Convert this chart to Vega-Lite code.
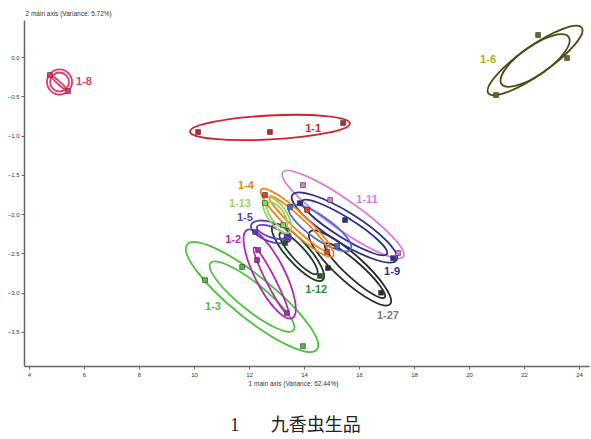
{
  "$schema": "https://vega.github.io/schema/vega-lite/v6.json",
  "width": 565,
  "height": 346,
  "autosize": "none",
  "padding": {"left": 24, "top": 20, "right": 2, "bottom": 73},
  "background": "white",
  "title": {
    "text": "1\u00a0\u00a0\u00a0\u00a0\u00a0\u00a0\u00a0九香虫生品",
    "orient": "bottom",
    "anchor": "middle",
    "dx": -11,
    "offset": 30,
    "font": "Liberation Serif, Noto Sans CJK SC",
    "fontSize": 18,
    "fontWeight": "normal",
    "color": "#222222"
  },
  "datasets": {
    "ellipses": [
      {"group": "1-8", "ring": "outer", "pc1": 5.11, "pc2": -0.318, "len": 0.91, "ratio": "1", "tilt": 0},
      {"group": "1-8", "ring": "inner", "pc1": 5.11, "pc2": -0.318, "len": 0.69, "ratio": "1", "tilt": 0},
      {"group": "1-8", "ring": "axis", "pc1": 5.09, "pc2": -0.33, "len": 0.87, "ratio": "0.12", "tilt": 42},
      {"group": "1-1", "ring": "outer", "pc1": 12.76, "pc2": -0.897, "len": 5.82, "ratio": "0.15", "tilt": -3},
      {"group": "1-6", "ring": "outer", "pc1": 22.4, "pc2": -0.045, "len": 4.15, "ratio": "0.25", "tilt": -35},
      {"group": "1-6", "ring": "inner", "pc1": 22.4, "pc2": -0.045, "len": 2.98, "ratio": "0.35", "tilt": -35},
      {"group": "1-3", "ring": "outer", "pc1": 12.11, "pc2": -3.055, "len": 6.07, "ratio": "0.25", "tilt": 39},
      {"group": "1-3", "ring": "inner", "pc1": 12.11, "pc2": -3.05, "len": 3.89, "ratio": "0.25", "tilt": 39},
      {"group": "1-2", "ring": "outer", "pc1": 12.75, "pc2": -2.762, "len": 3.6, "ratio": "0.3", "tilt": 63},
      {"group": "1-2", "ring": "inner", "pc1": 12.8, "pc2": -2.85, "len": 2.73, "ratio": "0.12", "tilt": 63},
      {"group": "1-27", "ring": "outer", "pc1": 15.67, "pc2": -2.686, "len": 3.93, "ratio": "0.25", "tilt": 42},
      {"group": "1-27", "ring": "inner", "pc1": 15.85, "pc2": -2.72, "len": 2.91, "ratio": "0.2", "tilt": 42},
      {"group": "1-12", "ring": "outer", "pc1": 13.78, "pc2": -2.488, "len": 2.69, "ratio": "0.3", "tilt": 48},
      {"group": "1-12", "ring": "inner", "pc1": 13.8, "pc2": -2.5, "len": 2.0, "ratio": "0.25", "tilt": 48},
      {"group": "1-11", "ring": "outer", "pc1": 15.42, "pc2": -2.005, "len": 5.35, "ratio": "0.2", "tilt": 35},
      {"group": "1-9", "ring": "outer", "pc1": 15.47, "pc2": -2.17, "len": 4.47, "ratio": "0.25", "tilt": 32},
      {"group": "1-9", "ring": "inner", "pc1": 15.47, "pc2": -2.17, "len": 3.64, "ratio": "0.2", "tilt": 32},
      {"group": "1-10", "ring": "outer", "pc1": 14.58, "pc2": -2.176, "len": 2.73, "ratio": "0.3", "tilt": 35},
      {"group": "1-4", "ring": "outer", "pc1": 13.75, "pc2": -2.11, "len": 3.56, "ratio": "0.2", "tilt": 43},
      {"group": "1-4", "ring": "inner", "pc1": 13.8, "pc2": -2.12, "len": 2.9, "ratio": "0.15", "tilt": 43},
      {"group": "1-5", "ring": "outer", "pc1": 12.8, "pc2": -2.227, "len": 1.53, "ratio": "0.45", "tilt": 20},
      {"group": "1-5", "ring": "inner", "pc1": 12.8, "pc2": -2.227, "len": 1.09, "ratio": "0.35", "tilt": 20},
      {"group": "1-13", "ring": "outer", "pc1": 13.02, "pc2": -2.01, "len": 1.53, "ratio": "0.45", "tilt": 55},
      {"group": "1-13", "ring": "inner", "pc1": 13.02, "pc2": -2.01, "len": 1.09, "ratio": "0.45", "tilt": 55}
    ],
    "scores": [
      {"group": "1-8", "pc1": 4.76, "pc2": -0.229},
      {"group": "1-8", "pc1": 5.42, "pc2": -0.433},
      {"group": "1-1", "pc1": 10.15, "pc2": -0.955},
      {"group": "1-1", "pc1": 12.76, "pc2": -0.955},
      {"group": "1-1", "pc1": 15.42, "pc2": -0.84},
      {"group": "1-6", "pc1": 22.51, "pc2": 0.28},
      {"group": "1-6", "pc1": 23.56, "pc2": -0.013},
      {"group": "1-6", "pc1": 20.98, "pc2": -0.484},
      {"group": "1-3", "pc1": 11.75, "pc2": -2.673},
      {"group": "1-3", "pc1": 10.4, "pc2": -2.84},
      {"group": "1-3", "pc1": 13.96, "pc2": -3.68},
      {"group": "1-2", "pc1": 12.33, "pc2": -2.456},
      {"group": "1-2", "pc1": 12.29, "pc2": -2.584},
      {"group": "1-2", "pc1": 13.38, "pc2": -3.26},
      {"group": "1-27", "pc1": 14.87, "pc2": -2.686},
      {"group": "1-27", "pc1": 16.8, "pc2": -3.0},
      {"group": "1-12", "pc1": 13.31, "pc2": -2.367},
      {"group": "1-12", "pc1": 14.58, "pc2": -2.787},
      {"group": "1-11", "pc1": 13.96, "pc2": -1.63},
      {"group": "1-11", "pc1": 14.95, "pc2": -1.82},
      {"group": "1-11", "pc1": 17.42, "pc2": -2.495},
      {"group": "1-9", "pc1": 13.85, "pc2": -1.86},
      {"group": "1-9", "pc1": 15.49, "pc2": -2.075},
      {"group": "1-9", "pc1": 17.24, "pc2": -2.56},
      {"group": "1-10", "pc1": 13.49, "pc2": -1.91},
      {"group": "1-10", "pc1": 15.2, "pc2": -2.405},
      {"group": "1-4", "pc1": 12.58, "pc2": -1.756},
      {"group": "1-4", "pc1": 14.11, "pc2": -1.947},
      {"group": "1-4", "pc1": 14.84, "pc2": -2.48},
      {"group": "1-5", "pc1": 12.22, "pc2": -2.227},
      {"group": "1-5", "pc1": 13.38, "pc2": -2.3},
      {"group": "1-13", "pc1": 12.58, "pc2": -1.86},
      {"group": "1-13", "pc1": 13.24, "pc2": -2.14}
    ],
    "labels": [
      {"group": "1-8", "pc1": 6.0, "pc2": -0.318},
      {"group": "1-1", "pc1": 14.33, "pc2": -0.916},
      {"group": "1-6", "pc1": 20.69, "pc2": -0.04},
      {"group": "1-11", "pc1": 16.29, "pc2": -1.82},
      {"group": "1-9", "pc1": 17.2, "pc2": -2.74},
      {"group": "1-4", "pc1": 11.89, "pc2": -1.64},
      {"group": "1-13", "pc1": 11.67, "pc2": -1.87},
      {"group": "1-5", "pc1": 11.85, "pc2": -2.05},
      {"group": "1-2", "pc1": 11.42, "pc2": -2.33},
      {"group": "1-12", "pc1": 14.44, "pc2": -2.966},
      {"group": "1-27", "pc1": 17.05, "pc2": -3.3},
      {"group": "1-3", "pc1": 10.69, "pc2": -3.18}
    ]
  },
  "encoding": {
    "x": {
      "field": "pc1",
      "type": "quantitative",
      "scale": {"domain": [3.818, 24.36], "nice": false, "zero": false},
      "axis": {
        "values": [4, 6, 8, 10, 12, 14, 16, 18, 20, 22, 24],
        "title": "1 main axis (Variance: 52.44%)",
        "titleX": 269,
        "titleY": 17,
        "titleAlign": "center",
        "titleBaseline": "middle"
      }
    },
    "y": {
      "field": "pc2",
      "type": "quantitative",
      "scale": {"domain": [-3.933, 0.471], "nice": false, "zero": false},
      "axis": {
        "values": [-3.5, -3, -2.5, -2, -1.5, -1, -0.5, 0],
        "format": ".1f",
        "title": "2 main axis (Variance: 5.72%)",
        "titleAngle": 0,
        "titleX": 1,
        "titleY": -7,
        "titleAlign": "left",
        "titleBaseline": "middle"
      }
    }
  },
  "layer": [
    {
      "data": {"name": "ellipses"},
      "mark": {"type": "point", "filled": false, "strokeWidth": 1.8, "opacity": 1},
      "encoding": {
        "color": {
          "field": "group",
          "type": "nominal",
          "legend": null,
          "scale": {
            "domain": ["1-8", "1-1", "1-6", "1-3", "1-2", "1-27", "1-12", "1-11", "1-9", "1-10", "1-4", "1-5", "1-13"],
            "range": ["#e43a6e", "#d0212a", "#4d4a12", "#4cc23a", "#b428b4", "#2a2a2a", "#1c3a22", "#e07ad6", "#2b2f86", "#4a6ae0", "#f0801a", "#5b3cc0", "#9ad45a"]
          }
        },
        "shape": {
          "field": "ratio",
          "type": "nominal",
          "legend": null,
          "scale": {
            "domain": ["1", "0.45", "0.35", "0.3", "0.25", "0.2", "0.15", "0.12"],
            "range": [
              "M-1,0A1,1,0,1,1,1,0A1,1,0,1,1,-1,0Z",
              "M-1,0A1,0.45,0,1,1,1,0A1,0.45,0,1,1,-1,0Z",
              "M-1,0A1,0.35,0,1,1,1,0A1,0.35,0,1,1,-1,0Z",
              "M-1,0A1,0.3,0,1,1,1,0A1,0.3,0,1,1,-1,0Z",
              "M-1,0A1,0.25,0,1,1,1,0A1,0.25,0,1,1,-1,0Z",
              "M-1,0A1,0.2,0,1,1,1,0A1,0.2,0,1,1,-1,0Z",
              "M-1,0A1,0.15,0,1,1,1,0A1,0.15,0,1,1,-1,0Z",
              "M-1,0A1,0.12,0,1,1,1,0A1,0.12,0,1,1,-1,0Z"
            ]
          }
        },
        "size": {
          "field": "len",
          "type": "quantitative",
          "legend": null,
          "scale": {"type": "pow", "exponent": 2, "domain": [0, 10], "range": [0, 75625], "zero": true}
        },
        "angle": {"field": "tilt", "type": "quantitative", "scale": null}
      }
    },
    {
      "data": {"name": "scores"},
      "mark": {"type": "point", "shape": "square", "filled": true, "size": 24, "opacity": 1, "stroke": "#333333", "strokeWidth": 0.6},
      "encoding": {
        "color": {
          "field": "group",
          "type": "nominal",
          "legend": null,
          "scale": {
            "domain": ["1-8", "1-1", "1-6", "1-3", "1-2", "1-27", "1-12", "1-11", "1-9", "1-10", "1-4", "1-5", "1-13"],
            "range": ["#e43a6e", "#d0212a", "#6a6a18", "#4cc23a", "#b428b4", "#2a2a2a", "#1c5a2a", "#e07ad6", "#2b2f86", "#4a6ae0", "#e8401a", "#5b3cc0", "#9ad45a"]
          }
        }
      }
    },
    {
      "data": {"name": "labels"},
      "mark": {"type": "text", "font": "Liberation Sans", "fontSize": 11, "fontWeight": "bold", "align": "center", "baseline": "middle"},
      "encoding": {
        "text": {"field": "group", "type": "nominal"},
        "color": {
          "field": "group",
          "type": "nominal",
          "legend": null,
          "scale": {
            "domain": ["1-8", "1-1", "1-6", "1-3", "1-2", "1-27", "1-12", "1-11", "1-9", "1-4", "1-5", "1-13"],
            "range": ["#e43a6e", "#d0212a", "#a0b424", "#4cc23a", "#b428b4", "#7a7a7a", "#2e8a3a", "#e07ad6", "#2b2f86", "#f0801a", "#5b3cc0", "#9ad45a"]
          }
        }
      }
    }
  ],
  "resolve": {"scale": {"color": "independent"}},
  "config": {
    "view": {"stroke": null},
    "axis": {
      "grid": false,
      "domainColor": "#666666",
      "domainWidth": 1.5,
      "tickColor": "#666666",
      "tickSize": 3,
      "labelFont": "Liberation Sans",
      "labelFontSize": 6,
      "labelColor": "#333333",
      "titleFont": "Liberation Sans",
      "titleFontSize": 6.5,
      "titleFontWeight": "normal",
      "titleColor": "#333333"
    }
  }
}
